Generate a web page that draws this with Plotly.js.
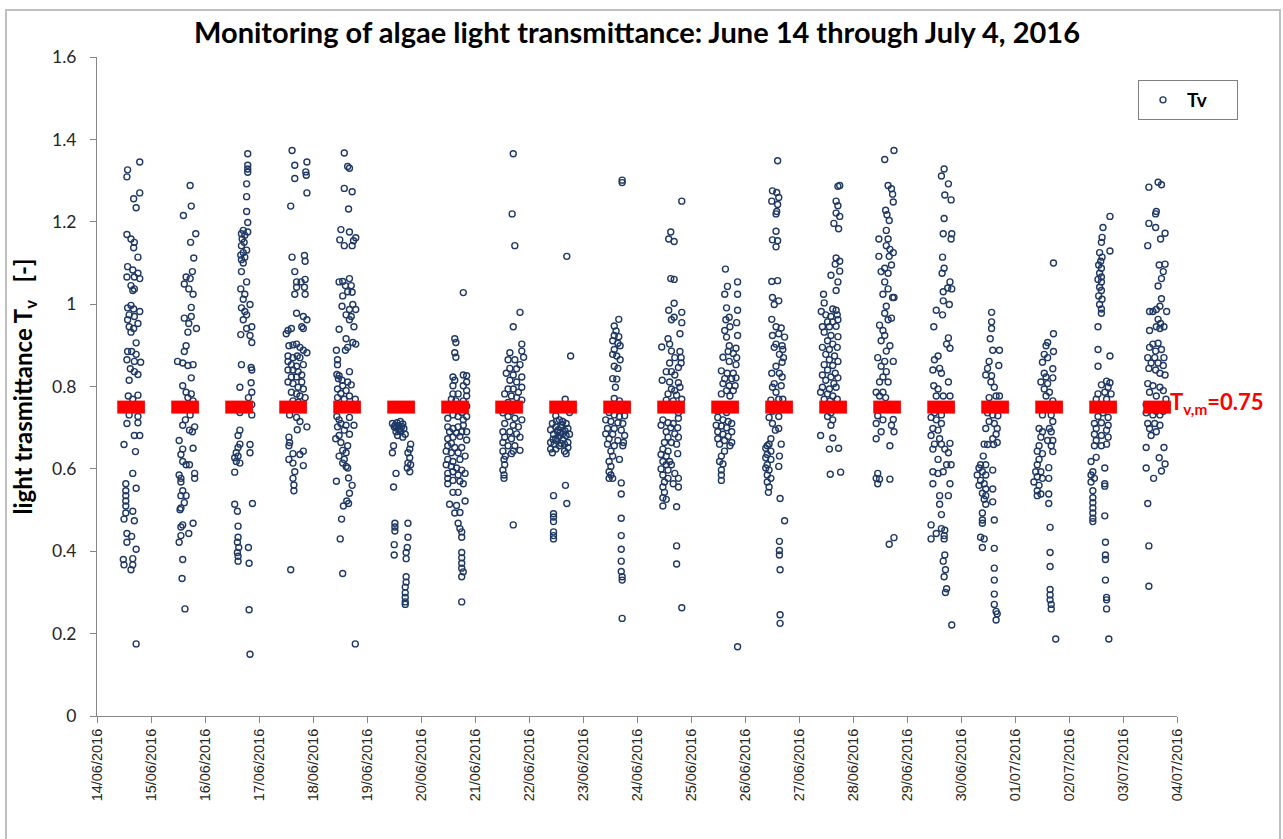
<!DOCTYPE html>
<html>
<head>
<meta charset="utf-8">
<script src="https://cdn.plot.ly/plotly-3.0.1.min.js"></script>
<style>html,body{margin:0;padding:0;background:#fff;}#chart{width:1283px;height:839px;}</style>
</head>
<body>
<div id="chart"></div>
<script>
// ---- Data (hour of day of each reading, and light transmittance Tv) ----
const dayDates = ['2016-06-14','2016-06-15','2016-06-16','2016-06-17','2016-06-18','2016-06-19','2016-06-20','2016-06-21','2016-06-22','2016-06-23','2016-06-24','2016-06-25','2016-06-26','2016-06-27','2016-06-28','2016-06-29','2016-06-30','2016-07-01','2016-07-02','2016-07-03'];
const tickDates = ['2016-06-14','2016-06-15','2016-06-16','2016-06-17','2016-06-18','2016-06-19','2016-06-20','2016-06-21','2016-06-22','2016-06-23','2016-06-24','2016-06-25','2016-06-26','2016-06-27','2016-06-28','2016-06-29','2016-06-30','2016-07-01','2016-07-02','2016-07-03','2016-07-04'];
const tickLabels = ['14/06/2016','15/06/2016','16/06/2016','17/06/2016','18/06/2016','19/06/2016','20/06/2016','21/06/2016','22/06/2016','23/06/2016','24/06/2016','25/06/2016','26/06/2016','27/06/2016','28/06/2016','29/06/2016','30/06/2016','01/07/2016','02/07/2016','03/07/2016','04/07/2016'];
const meanTv = 0.75;

const hr_0614 = [19.0,13.6,13.3,19.0,16.3,17.4,13.3,15.1,16.6,16.3, 18.2,13.6,15.9,18.2,13.3,16.6,19.0,15.1,16.6,15.9, 15.1,13.6,16.3,19.0,14.3,16.6,13.6,18.2,14.3,16.3, 15.1,17.4,13.6,15.4,17.4,13.3,16.6,19.4,14.8,16.6, 18.2,14.3,13.9,18.2,15.9,15.1,16.6,14.3,18.2,13.3, 18.2,16.6,19.0,12.0,17.1,15.9,12.8,17.4,12.8,12.8, 12.8,12.8,15.9,12.8,12.0,16.6,13.3,15.4,17.4,13.3, 11.7,15.9,12.0,15.9,15.1,17.4];
const tv_0614 = [1.345,1.326,1.309,1.270,1.256,1.234,1.169,1.158,1.150,1.137, 1.114,1.091,1.083,1.075,1.066,1.066,1.062,1.045,1.037,1.033, 0.997,0.991,0.988,0.982,0.974,0.970,0.962,0.953,0.945,0.941, 0.932,0.906,0.885,0.885,0.878,0.865,0.861,0.859,0.843,0.836, 0.829,0.815,0.777,0.779,0.769,0.752,0.744,0.731,0.727,0.710, 0.712,0.681,0.681,0.659,0.642,0.589,0.564,0.553,0.547,0.535, 0.522,0.510,0.497,0.493,0.478,0.474,0.443,0.436,0.405,0.422, 0.380,0.382,0.367,0.367,0.355,0.175];

const hr_0615 = [17.4,17.9,14.4,19.9,17.6,19.0,18.4,15.6,17.4,14.8, 16.8,18.7,17.9,14.8,17.9,16.8,20.2,16.4,15.6,14.8, 11.8,14.1,16.4,18.7,17.9,14.1,15.6,17.9,16.4,18.7, 14.8,17.1,15.6,17.4,15.3,14.1,19.4,17.1,18.4,12.5, 14.1,18.7,13.3,14.1,15.6,17.1,19.4,12.5,13.3,19.4, 13.3,14.1,13.3,15.6,14.8,13.3,12.9,14.1,13.3,18.7, 16.8,13.3,12.5,14.1,13.8,15.1];
const tv_0615 = [1.288,1.238,1.215,1.171,1.150,1.112,1.079,1.066,1.062,1.049, 1.037,1.024,0.992,0.966,0.970,0.953,0.941,0.932,0.899,0.885, 0.861,0.857,0.851,0.853,0.821,0.802,0.786,0.782,0.773,0.765, 0.756,0.752,0.744,0.731,0.719,0.706,0.702,0.694,0.690,0.669, 0.648,0.650,0.635,0.618,0.610,0.610,0.589,0.585,0.577,0.577, 0.568,0.547,0.535,0.535,0.518,0.505,0.501,0.464,0.459,0.468, 0.443,0.438,0.422,0.380,0.334,0.260];

const hr_0616 = [19.0,19.0,19.0,19.0,18.5,18.5,18.5,19.0,17.0,19.0, 16.2,17.7,16.5,17.4,16.2,18.5,17.0,15.9,17.7,16.2, 17.0,16.2,18.5,15.9,17.7,17.0,20.0,16.2,17.7,18.5, 17.0,20.8,18.5,15.9,20.0,20.8,16.2,20.5,20.8,20.5, 15.5,20.8,19.3,20.8,15.5,20.8,15.5,14.7,15.5,20.0, 14.7,13.9,13.2,14.7,13.9,15.5,13.2,20.0,13.2,14.4, 21.1,14.7,14.7,14.4,15.0,19.3,14.4,14.7,14.7,19.6, 19.6,20.0];
const tv_0616 = [1.365,1.337,1.328,1.320,1.292,1.261,1.225,1.198,1.179,1.175, 1.171,1.167,1.158,1.150,1.142,1.131,1.125,1.119,1.114,1.108, 1.100,1.079,1.054,1.037,1.024,1.012,0.999,0.991,0.982,0.974, 0.962,0.945,0.941,0.926,0.924,0.907,0.853,0.846,0.840,0.809, 0.798,0.786,0.773,0.756,0.737,0.731,0.694,0.681,0.660,0.659, 0.652,0.639,0.627,0.631,0.618,0.614,0.592,0.639,0.514,0.497, 0.516,0.461,0.434,0.422,0.409,0.409,0.397,0.388,0.376,0.371, 0.258,0.150];

const hr_0617 = [14.7,15.9,21.3,20.8,21.0,15.9,21.3,14.1,14.7,20.2, 20.5,15.9,16.7,20.5,18.7,16.7,20.2,15.9,20.5,16.7, 19.7,21.3,19.0,19.7,12.9,14.4,12.1,13.3,15.1,16.7, 18.2,19.7,21.3,12.9,15.1,17.0,18.2,12.9,14.4,16.7, 19.7,12.9,15.1,17.4,19.0,14.4,16.7,12.9,15.1,19.0, 17.4,19.7,14.4,16.7,18.2,20.5,15.1,17.4,13.6,18.2, 13.6,16.7,18.2,21.3,17.0,13.3,13.6,13.3,19.7,15.1, 13.3,18.2,15.1,19.7,15.9,15.1,15.5,15.5,14.1];
const tv_0617 = [1.373,1.337,1.345,1.321,1.313,1.305,1.270,1.238,1.114,1.118, 1.104,1.079,1.054,1.060,1.054,1.041,1.041,1.024,1.024,0.978, 0.970,0.962,0.945,0.941,0.936,0.941,0.928,0.899,0.901,0.903, 0.895,0.888,0.882,0.874,0.870,0.874,0.870,0.861,0.853,0.849, 0.853,0.840,0.840,0.836,0.828,0.823,0.823,0.811,0.807,0.811, 0.798,0.794,0.786,0.782,0.777,0.773,0.765,0.762,0.748,0.744, 0.731,0.725,0.715,0.702,0.695,0.677,0.664,0.656,0.643,0.637, 0.623,0.635,0.614,0.608,0.593,0.577,0.561,0.547,0.355];

const hr_0618 = [13.9,15.4,16.2,13.9,17.4,15.8,12.4,16.2,11.9,13.9, 17.4,19.0,18.0,11.6,13.2,16.2,14.4,17.0,15.4,13.2, 17.4,12.9,17.7,16.2,19.0,14.7,17.0,16.2,18.2,11.6, 14.7,17.7,19.0,15.4,14.4,10.4,10.9,10.9,10.6,16.2, 11.6,11.3,12.9,15.4,13.2,17.0,10.9,14.7,12.4,10.9, 16.2,13.9,18.8,10.6,11.6,12.4,10.9,16.2,14.7,18.2, 13.9,16.2,11.6,10.1,12.4,15.4,13.2,14.7,11.6,13.9, 13.2,14.7,15.4,15.8,10.4,17.4,16.2,15.0,15.8,13.5, 12.7,12.1,13.2,18.8];
const tv_0618 = [1.367,1.334,1.330,1.281,1.273,1.231,1.181,1.175,1.156,1.142, 1.142,1.161,1.154,1.054,1.055,1.062,1.045,1.045,1.030,1.020, 1.029,0.995,0.999,0.987,0.987,0.974,0.970,0.962,0.945,0.939, 0.916,0.907,0.903,0.895,0.888,0.888,0.865,0.853,0.829,0.836, 0.826,0.819,0.815,0.811,0.802,0.804,0.794,0.790,0.783,0.773, 0.777,0.769,0.769,0.727,0.719,0.710,0.702,0.725,0.706,0.706, 0.694,0.684,0.681,0.673,0.664,0.656,0.645,0.639,0.631,0.623, 0.614,0.606,0.602,0.578,0.570,0.560,0.541,0.522,0.516,0.510, 0.478,0.430,0.346,0.175];

const hr_0619 = [11.3,13.3,14.8,15.9,12.1,14.4,16.4,12.9,15.1,13.6, 15.9,17.0,11.8,11.3,19.4,19.0,18.2,19.0,18.2,19.4, 17.9,19.0,12.9,11.8,12.4,12.4,12.4,18.2,18.2,12.1, 17.9,12.1,17.4,17.4,17.4,17.4,17.0,17.0,17.0,17.0, 17.0,13.9,14.1,12.5,15.5,13.0,14.6];
const tv_0619 = [0.710,0.712,0.715,0.709,0.702,0.698,0.698,0.690,0.690,0.681, 0.677,0.684,0.656,0.639,0.660,0.648,0.639,0.627,0.614,0.610, 0.602,0.593,0.589,0.556,0.468,0.459,0.449,0.468,0.434,0.416, 0.409,0.391,0.397,0.382,0.338,0.325,0.313,0.299,0.288,0.277, 0.271,0.705,0.695,0.706,0.703,0.700,0.692];

const hr_0620 = [18.8,15.0,15.5,15.0,15.5,14.2,18.8,20.3,15.0,20.3, 14.2,18.8,20.3,14.2,16.5,20.3,13.5,15.5,18.8,17.3, 20.3,13.5,15.8,18.1,14.2,16.5,20.3,11.9,18.8,11.9, 14.2,16.5,18.8,12.7,15.8,18.1,20.3,11.9,14.2,17.3, 20.3,13.5,11.9,15.0,18.1,11.2,13.5,16.5,19.6,11.9, 14.2,17.3,11.2,13.5,15.8,18.1,11.9,14.2,16.5,19.6, 11.9,14.2,17.3,11.9,18.8,14.2,16.5,12.7,15.8,19.6, 17.3,15.0,16.5,17.3,18.1,18.1,18.1,18.1,18.1,18.1, 18.8,18.1,18.1];
const tv_0620 = [1.028,0.916,0.907,0.882,0.871,0.823,0.828,0.826,0.815,0.811, 0.802,0.802,0.790,0.782,0.782,0.777,0.769,0.765,0.765,0.756, 0.752,0.746,0.744,0.737,0.731,0.727,0.727,0.723,0.719,0.702, 0.698,0.702,0.706,0.690,0.687,0.690,0.690,0.673,0.677,0.679, 0.670,0.662,0.656,0.652,0.652,0.643,0.639,0.639,0.631,0.623, 0.618,0.623,0.610,0.606,0.602,0.597,0.589,0.593,0.585,0.589, 0.577,0.572,0.570,0.564,0.564,0.543,0.543,0.514,0.511,0.522, 0.494,0.493,0.468,0.455,0.447,0.434,0.397,0.384,0.371,0.359, 0.350,0.338,0.277];

const hr_0621 = [17.0,16.5,17.7,20.0,17.0,20.8,15.5,20.8,21.6,14.7, 17.7,20.0,15.5,18.5,13.9,17.0,20.8,15.5,18.5,20.8, 14.7,17.0,19.3,13.2,16.2,18.5,20.8,14.7,17.7,12.4, 16.2,19.3,14.7,17.7,20.8,13.2,17.0,19.3,12.4,15.5, 18.5,13.2,16.2,20.0,12.4,14.7,17.7,12.4,17.0,20.0, 13.5,16.2,12.9,13.2,12.4,12.9,12.9,17.0];
const tv_0621 = [1.365,1.219,1.142,0.980,0.945,0.903,0.882,0.886,0.871,0.865, 0.865,0.853,0.844,0.843,0.832,0.828,0.823,0.815,0.811,0.798, 0.794,0.794,0.786,0.782,0.777,0.773,0.767,0.761,0.756,0.736, 0.740,0.744,0.727,0.723,0.719,0.710,0.706,0.702,0.690,0.690, 0.685,0.677,0.673,0.677,0.664,0.656,0.656,0.643,0.643,0.645, 0.631,0.637,0.623,0.610,0.597,0.585,0.577,0.464];

const hr_0622 = [16.8,18.5,16.1,18.0,11.9,13.5,10.4,15.0,16.5,11.9, 14.2,9.6,17.3,12.7,15.0,10.9,13.5,16.5,18.0,11.9, 15.0,9.6,17.3,11.2,13.5,15.8,9.6,11.9,17.3,10.4, 15.8,16.5,16.2,10.9,16.8,10.9,10.9,10.9,10.9,10.9, 10.9,12.2,14.6,13.0,16.0,12.4,14.3,10.7,13.9];
const tv_0622 = [1.116,0.874,0.769,0.737,0.729,0.719,0.710,0.715,0.710,0.702, 0.700,0.695,0.698,0.690,0.685,0.684,0.679,0.681,0.684,0.673, 0.670,0.664,0.664,0.660,0.656,0.660,0.648,0.648,0.652,0.639, 0.643,0.637,0.560,0.535,0.516,0.491,0.483,0.472,0.447,0.438, 0.430,0.716,0.707,0.695,0.692,0.668,0.662,0.672,0.688];

const hr_0623 = [17.4,17.4,15.9,13.9,14.7,13.9,15.9,13.2,15.5,16.5, 13.9,13.2,15.0,16.5,13.9,15.5,13.2,15.0,14.4,13.9, 16.2,11.6,13.9,16.2,18.5,10.1,12.4,15.5,17.7,10.9, 13.9,17.0,10.1,13.2,18.5,11.6,15.5,18.0,10.9,13.9, 17.7,16.2,12.4,13.2,11.6,12.4,11.6,12.4,11.6,13.2, 17.0,17.0,17.0,17.0,17.0,17.0,17.0,17.4,17.4,17.4];
const tv_0623 = [1.301,1.295,0.963,0.947,0.935,0.924,0.921,0.911,0.905,0.899, 0.890,0.878,0.874,0.865,0.849,0.844,0.819,0.818,0.798,0.771, 0.765,0.737,0.731,0.727,0.729,0.719,0.715,0.712,0.710,0.698, 0.698,0.694,0.685,0.684,0.681,0.673,0.669,0.664,0.660,0.656, 0.656,0.623,0.643,0.631,0.618,0.606,0.593,0.585,0.577,0.577, 0.566,0.539,0.480,0.438,0.405,0.376,0.351,0.338,0.330,0.237];

const hr_0624 = [19.9,15.0,14.1,16.5,15.0,16.5,16.5,14.1,19.9,15.3, 16.5,19.9,19.1,11.0,14.5,13.8,15.3,19.1,19.6,16.8, 14.5,19.6,18.4,13.0,15.3,16.8,11.2,14.5,18.4,19.1, 15.3,16.8,13.8,17.6,19.9,13.0,16.1,18.4,18.4,11.5, 13.8,16.1,10.7,15.0,18.1,13.0,16.8,13.8,18.4,12.2, 15.3,17.6,11.5,13.8,10.7,18.1,13.0,11.5,14.5,13.0, 15.3,10.7,13.8,16.8,11.5,13.8,18.4,12.2,16.1,11.5, 18.4,12.2,11.5,13.0,11.5,17.6,17.6,17.6,19.9];
const tv_0624 = [1.250,1.175,1.158,1.152,1.062,1.060,1.002,0.985,0.980,0.962, 0.968,0.955,0.928,0.896,0.903,0.916,0.886,0.885,0.870,0.870, 0.857,0.857,0.846,0.836,0.836,0.828,0.815,0.811,0.809,0.798, 0.794,0.790,0.782,0.779,0.769,0.767,0.765,0.736,0.723,0.719, 0.712,0.710,0.706,0.700,0.700,0.690,0.685,0.677,0.677,0.664, 0.664,0.660,0.648,0.643,0.635,0.637,0.631,0.618,0.618,0.610, 0.610,0.600,0.597,0.589,0.585,0.577,0.577,0.568,0.564,0.556, 0.556,0.543,0.530,0.526,0.510,0.508,0.413,0.369,0.263];

const hr_0625 = [15.3,20.7,16.2,15.0,20.7,15.8,20.7,17.0,15.5,20.3, 15.0,17.3,15.8,20.7,17.0,20.0,16.5,18.8,20.3,14.2, 17.0,20.0,13.5,16.1,18.8,15.0,18.1,20.0,14.2,17.0, 19.6,15.8,18.8,13.5,17.3,14.2,16.5,11.9,15.8,18.1, 11.9,14.2,16.5,11.2,13.5,15.8,11.9,18.1,14.2,16.5, 11.9,14.9,18.1,12.7,17.3,14.9,13.5,12.7,14.2,13.5, 13.5,13.5,20.7];
const tv_0625 = [1.085,1.054,1.043,1.024,1.024,0.991,0.985,0.968,0.962,0.955, 0.936,0.945,0.920,0.924,0.899,0.893,0.885,0.880,0.870,0.871, 0.861,0.853,0.838,0.832,0.832,0.819,0.819,0.821,0.807,0.802, 0.802,0.790,0.790,0.782,0.777,0.752,0.748,0.740,0.737,0.710, 0.725,0.719,0.715,0.706,0.704,0.700,0.690,0.690,0.684,0.679, 0.673,0.669,0.664,0.660,0.656,0.643,0.631,0.618,0.612,0.597, 0.585,0.572,0.168];

const hr_0626 = [14.5,12.2,14.1,11.9,15.0,14.5,14.1,13.8,13.8,12.2, 14.5,13.8,11.9,14.5,12.2,15.0,13.0,11.9,13.8,16.1, 12.2,15.0,17.6,13.8,16.5,13.0,16.8,15.3,17.1,16.5, 13.8,11.9,15.3,16.5,13.0,16.1,12.2,13.8,16.8,15.0, 11.5,13.8,12.2,15.0,10.7,12.2,15.0,13.5,11.5,10.7, 9.9,16.1,9.2,11.5,9.9,9.2,11.5,15.3,9.9,9.2, 15.0,10.7,9.9,11.5,9.9,10.7,10.4,15.6,17.6,15.3, 15.3,15.3,15.6,15.6,15.6];
const tv_0626 = [1.348,1.275,1.271,1.250,1.259,1.242,1.225,1.219,1.177,1.156, 1.154,1.139,1.055,1.057,1.016,1.008,0.999,0.963,0.945,0.942, 0.924,0.928,0.920,0.903,0.899,0.895,0.890,0.878,0.870,0.859, 0.849,0.832,0.832,0.823,0.807,0.802,0.798,0.786,0.769,0.769, 0.767,0.746,0.740,0.727,0.725,0.710,0.698,0.694,0.673,0.660, 0.656,0.660,0.650,0.643,0.635,0.627,0.623,0.631,0.610,0.602, 0.606,0.597,0.585,0.577,0.568,0.556,0.543,0.528,0.474,0.424, 0.402,0.391,0.355,0.246,0.225];

const hr_0627 = [18.1,17.3,16.5,17.3,16.5,18.1,15.5,17.6,16.5,18.1, 16.1,14.2,18.1,17.3,16.5,10.9,11.2,15.0,16.5,9.9, 11.9,14.2,17.0,12.7,15.0,17.3,10.4,13.5,16.5,11.2, 14.2,17.3,12.7,15.0,10.4,13.5,17.0,11.9,15.8,13.5, 17.3,11.2,15.0,12.7,16.1,10.4,14.2,17.3,11.9,15.5, 10.4,13.5,16.5,9.6,12.7,15.0,11.2,13.9,17.0,12.7, 16.1,14.2,12.7,15.0,14.2,9.6,15.0,13.5,17.6,13.9, 18.5];
const tv_0627 = [1.288,1.286,1.250,1.239,1.221,1.213,1.196,1.183,1.112,1.104, 1.097,1.070,1.080,1.054,1.033,1.024,1.003,0.988,0.985,0.982, 0.974,0.970,0.974,0.957,0.957,0.962,0.945,0.945,0.946,0.932, 0.924,0.921,0.911,0.903,0.895,0.890,0.895,0.878,0.874,0.865, 0.861,0.853,0.851,0.840,0.832,0.828,0.823,0.821,0.815,0.807, 0.798,0.794,0.798,0.786,0.782,0.777,0.769,0.765,0.769,0.752, 0.746,0.736,0.727,0.719,0.706,0.681,0.675,0.648,0.650,0.587, 0.592];

const hr_0628 = [18.2,14.1,15.6,17.1,17.6,17.9,14.5,15.1,16.1,14.8, 11.5,15.6,14.8,16.4,17.9,16.1,11.5,17.1,14.1,12.5, 15.6,14.1,15.6,13.3,17.6,18.2,14.8,14.1,17.1,15.6, 11.8,13.3,14.1,12.5,16.4,14.8,11.0,14.1,17.9,12.5, 14.8,13.3,11.8,15.6,10.3,13.3,11.8,14.5,11.0,13.3, 17.9,10.3,17.1,12.5,18.2,10.3,16.4,11.0,10.3,11.8, 16.4,11.0,16.1,18.2];
const tv_0628 = [1.373,1.351,1.288,1.280,1.267,1.248,1.228,1.217,1.203,1.179, 1.158,1.158,1.142,1.133,1.125,1.116,1.116,1.095,1.087,1.079, 1.075,1.054,1.037,1.024,1.016,1.016,0.995,0.978,0.966,0.962, 0.949,0.936,0.924,0.911,0.899,0.886,0.870,0.861,0.861,0.849, 0.836,0.823,0.811,0.811,0.786,0.786,0.777,0.773,0.729,0.719, 0.720,0.710,0.706,0.690,0.690,0.673,0.656,0.589,0.577,0.575, 0.575,0.564,0.417,0.433];

const hr_0629 = [16.5,15.3,18.4,16.8,19.6,16.5,16.1,19.9,19.6,15.8, 16.5,15.6,19.1,18.1,16.1,19.9,16.1,18.8,13.0,15.8, 11.9,18.4,17.6,19.1,13.8,12.2,14.5,11.5,15.3,18.4, 11.9,13.8,13.0,16.1,19.1,11.5,13.8,12.2,15.3,10.7, 13.0,15.3,11.5,13.8,10.7,14.5,12.2,15.3,19.1,11.5, 16.8,18.4,13.8,11.5,13.8,16.1,17.6,19.6,11.5,19.1, 14.5,18.4,14.5,15.3,10.7,15.3,16.8,13.0,10.7,16.5, 16.5,16.8,16.1,17.1,16.5,17.6,17.1,19.9];
const tv_0629 = [1.328,1.311,1.292,1.265,1.253,1.208,1.171,1.171,1.158,1.114, 1.087,1.075,1.054,1.039,1.030,1.037,1.008,0.999,0.985,0.974, 0.945,0.918,0.903,0.893,0.874,0.865,0.844,0.840,0.832,0.811, 0.802,0.794,0.777,0.777,0.777,0.756,0.748,0.736,0.731,0.725, 0.719,0.710,0.698,0.694,0.681,0.673,0.660,0.660,0.662,0.648, 0.648,0.639,0.623,0.593,0.589,0.593,0.610,0.610,0.564,0.564, 0.535,0.535,0.514,0.489,0.464,0.455,0.451,0.443,0.430,0.438, 0.430,0.391,0.376,0.355,0.338,0.309,0.300,0.221];

const hr_0630 = [13.6,13.6,13.6,13.0,17.1,14.1,16.8,12.5,11.8,11.0, 13.6,13.3,14.8,15.6,12.5,17.1,13.3,15.6,11.8,14.1, 16.4,12.5,14.8,16.1,11.0,15.6,14.1,16.1,10.3,11.8, 14.5,9.9,8.7,11.0,8.0,14.1,9.5,7.2,11.0,8.7, 10.3,8.0,11.0,14.1,9.5,11.0,10.3,14.1,11.0,9.5, 9.5,14.8,9.5,8.7,10.3,9.5,14.8,14.8,14.8,14.8, 14.8,15.6,15.6,16.1];
const tv_0630 = [0.980,0.957,0.941,0.916,0.888,0.888,0.851,0.861,0.844,0.828, 0.826,0.811,0.798,0.777,0.773,0.777,0.756,0.752,0.736,0.731, 0.729,0.715,0.710,0.698,0.698,0.684,0.673,0.664,0.660,0.659, 0.659,0.631,0.610,0.610,0.602,0.597,0.593,0.585,0.585,0.572, 0.564,0.560,0.551,0.551,0.541,0.535,0.526,0.520,0.514,0.493, 0.476,0.476,0.468,0.434,0.430,0.409,0.407,0.359,0.330,0.296, 0.271,0.254,0.233,0.248];

const hr_0701 = [17.1,17.1,14.5,13.8,17.1,13.0,14.5,12.2,16.8,13.0, 13.8,16.8,11.5,14.5,13.0,15.3,13.8,16.8,13.0,12.2, 16.1,16.8,10.7,15.3,12.2,16.1,11.5,14.5,16.8,10.7, 16.1,16.8,9.9,12.2,10.7,9.9,15.0,9.2,11.5,9.9, 12.2,15.0,8.4,10.7,9.9,11.5,15.0,9.9,15.0,15.6, 15.6,15.6,15.6,15.6,15.6,16.1,16.1,18.1];
const tv_0701 = [1.100,0.928,0.907,0.899,0.885,0.878,0.870,0.859,0.843,0.832, 0.823,0.821,0.811,0.807,0.794,0.786,0.777,0.765,0.752,0.731, 0.731,0.715,0.698,0.698,0.690,0.690,0.677,0.669,0.669,0.656, 0.656,0.642,0.643,0.637,0.623,0.610,0.603,0.593,0.593,0.581, 0.577,0.577,0.568,0.560,0.547,0.539,0.539,0.535,0.516,0.458, 0.397,0.363,0.307,0.294,0.282,0.271,0.260,0.187];

const hr_0702 = [18.2,15.1,14.7,14.4,18.2,13.6,14.7,14.1,13.2,14.4, 13.6,14.4,12.9,14.4,13.6,14.4,13.2,14.7,13.6,14.4, 14.4,12.9,12.9,18.2,12.9,16.7,18.2,14.4,17.4,15.9, 12.9,18.7,12.1,16.7,14.4,12.1,17.4,15.1,12.9,17.4, 11.3,14.4,17.4,12.1,16.7,11.3,14.4,17.4,12.1,16.7, 11.3,14.4,12.1,9.8,15.9,10.6,9.8,11.3,9.8,15.9, 15.9,10.6,10.6,10.6,10.6,10.6,10.6,10.6,15.9,16.2, 16.2,16.2,16.2,16.7,16.7,16.7,17.7];
const tv_0702 = [1.213,1.186,1.162,1.150,1.129,1.125,1.114,1.104,1.095,1.087, 1.075,1.066,1.060,1.054,1.041,1.033,1.020,1.012,0.999,0.988, 0.978,0.945,0.890,0.874,0.849,0.813,0.809,0.804,0.798,0.786, 0.782,0.782,0.769,0.769,0.752,0.744,0.744,0.736,0.727,0.725, 0.710,0.712,0.706,0.698,0.694,0.684,0.681,0.677,0.669,0.660, 0.656,0.656,0.628,0.618,0.602,0.593,0.585,0.577,0.568,0.564, 0.558,0.547,0.530,0.518,0.505,0.493,0.480,0.472,0.486,0.422, 0.391,0.380,0.330,0.288,0.282,0.260,0.187];

const hr_0703 = [11.5,15.6,17.1,14.8,14.5,11.5,14.5,18.7,16.7,11.0, 16.1,18.7,17.9,17.1,15.6,17.1,16.4,11.8,13.3,14.8, 19.4,15.6,16.7,18.2,11.8,14.8,16.4,13.3,15.6,11.8, 14.5,17.1,11.0,14.1,18.2,12.5,15.6,17.9,11.5,14.5, 16.4,18.7,11.0,13.3,16.4,17.9,11.8,14.8,19.1,10.3, 12.5,14.8,17.9,10.3,13.3,16.4,11.0,14.1,16.4,11.8, 14.8,12.5,10.3,18.2,16.1,18.7,10.3,17.1,13.6,11.0, 11.5,11.5];
const tv_0703 = [1.284,1.296,1.290,1.225,1.219,1.196,1.186,1.172,1.158,1.142, 1.095,1.097,1.079,1.062,1.044,1.013,0.995,0.982,0.982,0.987, 0.982,0.963,0.953,0.945,0.936,0.945,0.941,0.903,0.905,0.895, 0.886,0.890,0.870,0.870,0.870,0.857,0.857,0.851,0.844,0.840, 0.832,0.828,0.807,0.802,0.798,0.790,0.786,0.777,0.769,0.756, 0.752,0.740,0.740,0.736,0.731,0.731,0.710,0.710,0.706,0.698, 0.690,0.681,0.652,0.652,0.627,0.612,0.602,0.595,0.577,0.516, 0.413,0.315];

const dayHours = [hr_0614,hr_0615,hr_0616,hr_0617,hr_0618,hr_0619,hr_0620,hr_0621,hr_0622,hr_0623,hr_0624,hr_0625,hr_0626,hr_0627,hr_0628,hr_0629,hr_0630,hr_0701,hr_0702,hr_0703];
const dayTv = [tv_0614,tv_0615,tv_0616,tv_0617,tv_0618,tv_0619,tv_0620,tv_0621,tv_0622,tv_0623,tv_0624,tv_0625,tv_0626,tv_0627,tv_0628,tv_0629,tv_0630,tv_0701,tv_0702,tv_0703];

// ---- helpers ----
function toX(dateStr, hours) {
  const p = dateStr.split('-').map(Number);
  const ms = Date.UTC(p[0], p[1]-1, p[2]) + Math.round(hours*3600000);
  return new Date(ms).toISOString().slice(0,19).replace('T',' ');
}

const xs = [], ys = [];
dayDates.forEach((d, i) => {
  const h = dayHours[i], v = dayTv[i];
  const n = Math.min(h.length, v.length);
  for (let k = 0; k < n; k++) { xs.push(toX(d, h[k])); ys.push(v[k]); }
});

// mean-value bars (one red dash per day)
const dashFrom = 9.0, dashTo = 21.3;
const mx = [], my = [];
dayDates.forEach(d => { mx.push(toX(d, dashFrom), toX(d, dashTo), null); my.push(meanTv, meanTv, null); });

const navy = '#1F3864';
const traces = [
  {
    type: 'scatter', mode: 'markers', name: '<b>Tv</b>&nbsp;&nbsp;&nbsp;&nbsp;&nbsp;',
    x: xs, y: ys,
    marker: { symbol: 'circle-open', size: 6, color: navy, line: { width: 1.4, color: navy } },
    hoverinfo: 'x+y'
  },
  {
    type: 'scatter', mode: 'lines', name: 'Tv,m', showlegend: false,
    x: mx, y: my,
    line: { color: '#FF0000', width: 13 },
    hoverinfo: 'skip'
  }
];

const cal = 'Lato, "Open Sans", "Liberation Sans", Arial, sans-serif';
const layout = {
  width: 1283, height: 839,
  paper_bgcolor: '#ffffff', plot_bgcolor: '#ffffff',
  margin: { l: 97, r: 106, t: 57, b: 123 },
  title: {
    text: '<b>Monitoring of algae light transmittance: June 14 through July 4, 2016</b>',
    font: { family: cal, size: 29, color: '#000000' },
    x: 0.5, xref: 'paper', xanchor: 'center',
    y: 1 - 33/839, yref: 'container', yanchor: 'middle'
  },
  xaxis: {
    type: 'date',
    range: [tickDates[0], tickDates[tickDates.length-1]],
    tickmode: 'array', tickvals: tickDates, ticktext: tickLabels,
    tickangle: -90,
    tickfont: { family: '"Liberation Sans", Arial, sans-serif', size: 14.5, color: '#262626' },
    ticks: 'outside', ticklen: 6, tickcolor: '#868686', tickwidth: 1,
    showline: true, linecolor: '#868686', linewidth: 1,
    showgrid: false, zeroline: false, fixedrange: true
  },
  yaxis: {
    range: [0, 1.6], tickmode: 'array',
    tickvals: [0, 0.2, 0.4, 0.6, 0.8, 1, 1.2, 1.4, 1.6],
    ticktext: ['0', '0.2', '0.4', '0.6', '0.8', '1', '1.2', '1.4', '1.6'],
    tickfont: { family: cal, size: 17.5, color: '#262626' },
    ticks: 'outside', ticklen: 6, tickcolor: '#868686', tickwidth: 1,
    ticklabelstandoff: 10,
    showline: true, linecolor: '#868686', linewidth: 1,
    showgrid: false, zeroline: false,
    title: { text: '<b>light trasmittance T<sub>v</sub>&nbsp;&nbsp;&nbsp;[-]</b>', font: { family: cal, size: 24, color: '#000000' }, standoff: 12 }
  },
  showlegend: true,
  legend: {
    x: (1138-97)/1080, y: (716-80)/659, xanchor: 'left', yanchor: 'top',
    bgcolor: '#ffffff', bordercolor: '#7F7F7F', borderwidth: 1,
    font: { family: cal, size: 19, color: '#000000' },
    itemwidth: 38, tracegroupgap: 0
  },
  annotations: [
    {
      xref: 'paper', yref: 'y', x: (1168-97)/1080, y: meanTv, xanchor: 'left', yanchor: 'middle', yshift: 4,
      text: '<b>T<sub>v,m</sub>=0.75</b>', showarrow: false,
      font: { family: cal, size: 22, color: '#FF0000' }
    }
  ],
  shapes: [
    { type: 'rect', xref: 'paper', yref: 'paper',
      x0: (6-97)/1080, x1: (1280-97)/1080, y0: (716-860)/659, y1: (716-10)/659,
      line: { color: '#BFBFBF', width: 2 }, fillcolor: 'rgba(0,0,0,0)', layer: 'below' }
  ]
};

Plotly.newPlot('chart', traces, layout, { displayModeBar: false, staticPlot: true });
</script>
</body>
</html>
